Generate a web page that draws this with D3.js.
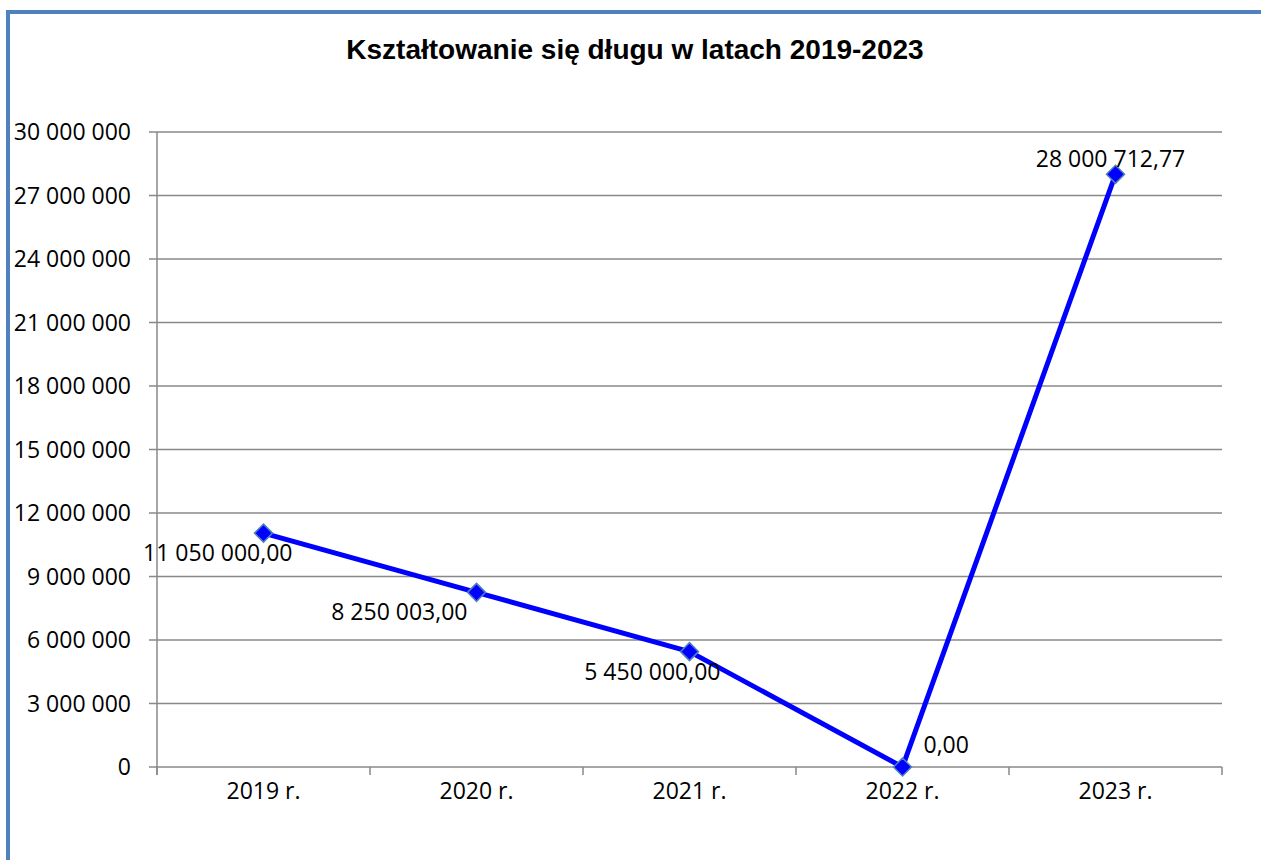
<!DOCTYPE html>
<html>
<head>
<meta charset="utf-8">
<script src="https://cdn.jsdelivr.net/npm/d3@7"></script>
<style>
  body { margin: 0; background: #fff; }
  svg { display: block; }
</style>
</head>
<body>
<svg width="1261" height="860"></svg>
<script>
// ============ DATA ============
const title = "Kształtowanie się długu w latach 2019-2023";
const years = ["2019 r.", "2020 r.", "2021 r.", "2022 r.", "2023 r."];
const debt = [11050000.00, 8250003.00, 5450000.00, 0.00, 28000712.77];
const yTicks = [0, 3000000, 6000000, 9000000, 12000000, 15000000, 18000000, 21000000, 24000000, 27000000, 30000000];

// ============ SETUP ============
const svg = d3.select("svg");
const plotLeft = 157, plotRight = 1222, plotTop = 132, plotBottom = 767;
const font = "'Open Sans', 'Noto Sans', sans-serif";
const fs = 23;

// outer frame
svg.append("rect")
  .attr("x", 8).attr("y", 12)
  .attr("width", 1300).attr("height", 900)
  .attr("fill", "none")
  .attr("stroke", "#4f81bd")
  .attr("stroke-width", 4);

svg.append("text")
  .attr("x", 635).attr("y", 59)
  .attr("text-anchor", "middle")
  .attr("font-family", "Arial, 'Liberation Sans', sans-serif")
  .attr("font-weight", "bold")
  .attr("font-size", 28)
  .text(title);

const xs = d3.scaleBand().domain(years).range([plotLeft, plotRight]);
const ys = d3.scaleLinear().domain([0, 30000000]).range([plotBottom, plotTop]);

const fmt = d3.formatLocale({ decimal: ",", thousands: " ", grouping: [3], currency: ["", ""] });
const fmtInt = fmt.format(",d");
const fmtDec = fmt.format(",.2f");

// ================== GRID + AXES ==================
svg.append("g")
  .selectAll("line")
  .data(yTicks)
  .enter()
  .append("line")
  .attr("x1", plotLeft - 8).attr("x2", plotRight)
  .attr("y1", d => ys(d)).attr("y2", d => ys(d))
  .attr("stroke", "#888")
  .attr("stroke-width", 1.5);

svg.append("line")
  .attr("x1", plotLeft).attr("x2", plotLeft)
  .attr("y1", plotTop).attr("y2", plotBottom + 8)
  .attr("stroke", "#888").attr("stroke-width", 1.5);

svg.append("g")
  .selectAll("text")
  .data(yTicks)
  .enter()
  .append("text")
  .attr("x", 131)
  .attr("y", d => ys(d))
  .attr("dy", "0.35em")
  .attr("text-anchor", "end")
  .attr("font-family", font)
  .attr("font-size", fs)
  .text(d => fmtInt(d));

// x ticks at band boundaries
const bounds = years.map(d => xs(d)).concat([xs.range()[1]]);
svg.append("g")
  .selectAll("line")
  .data(bounds)
  .enter()
  .append("line")
  .attr("x1", d => d).attr("x2", d => d)
  .attr("y1", plotBottom).attr("y2", plotBottom + 8)
  .attr("stroke", "#888").attr("stroke-width", 1.5);

svg.append("g")
  .selectAll("text")
  .data(years)
  .enter()
  .append("text")
  .attr("x", d => xs(d) + xs.bandwidth() / 2)
  .attr("y", 799)
  .attr("text-anchor", "middle")
  .attr("font-family", font)
  .attr("font-size", fs)
  .text(d => d);

// ================== LINE ==================
const pts = years.map((y, i) => ({ year: y, value: debt[i] }));
const cx = d => xs(d.year) + xs.bandwidth() / 2;

svg.append("path")
  .datum(pts)
  .attr("d", d3.line().x(cx).y(d => ys(d.value)))
  .attr("fill", "none")
  .attr("stroke", "#0000ff")
  .attr("stroke-width", 5)
  .attr("stroke-linejoin", "round");

svg.append("g")
  .selectAll("path")
  .data(pts)
  .enter()
  .append("path")
  .attr("d", "M0,-9L9,0L0,9L-9,0Z")
  .attr("transform", d => "translate(" + cx(d) + "," + ys(d.value) + ")")
  .attr("fill", "#0000ff")
  .attr("stroke", "#4f81bd")
  .attr("stroke-width", 1.5);

// label placement (excel style, per point)
const labelPos = [
  { dx: 29, dy: 28, anchor: "end" },
  { dx: -9, dy: 28, anchor: "end" },
  { dx: 31, dy: 28, anchor: "end" },
  { dx: 21, dy: -14, anchor: "start" },
  { dx: -5, dy: -7, anchor: "middle" }
];

svg.append("g")
  .selectAll("text")
  .data(pts)
  .enter()
  .append("text")
  .attr("x", (d, i) => cx(d) + labelPos[i].dx)
  .attr("y", (d, i) => ys(d.value) + labelPos[i].dy)
  .attr("text-anchor", (d, i) => labelPos[i].anchor)
  .attr("font-family", font)
  .attr("font-size", fs)
  .text(d => fmtDec(d.value));
</script>
</body>
</html>
